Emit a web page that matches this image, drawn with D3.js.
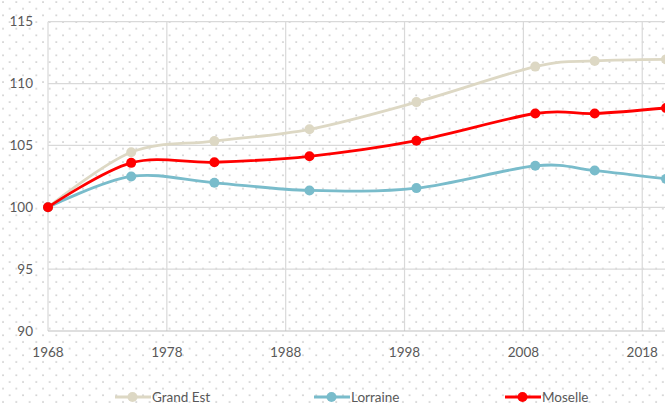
<!DOCTYPE html>
<html><head><meta charset="utf-8">
<script src="https://cdn.jsdelivr.net/npm/d3@7"></script>
<style>
html,body{margin:0;padding:0;background:#fff;}
svg{display:block;font-family:Lato,"Open Sans",sans-serif;}
</style></head>
<body><svg id="c" width="665" height="405"></svg>
<script>
const years = [1968, 1975, 1982, 1990, 1999, 2009, 2014, 2020];
const grandEst = [100, 104.45, 105.35, 106.3, 108.5, 111.37, 111.83, 111.96];
const lorraine = [100, 102.49, 101.98, 101.36, 101.55, 103.35, 102.97, 102.3];
const moselle  = [100, 103.59, 103.64, 104.12, 105.38, 107.58, 107.58, 108.03];
const seriesNames = ["Grand Est", "Lorraine", "Moselle"];
const seriesColors = ["#ddd8c4", "#79bccb", "#ff0000"];
const xTicks = [1968, 1978, 1988, 1998, 2008, 2018];
const yTicks = [90, 95, 100, 105, 110, 115];

const series = [grandEst, lorraine, moselle];
const svg = d3.select("#c");

// dotted background pattern
const defs = svg.append("defs");
const pat = defs.append("pattern").attr("id","dots").attr("patternUnits","userSpaceOnUse")
  .attr("width",13.33).attr("height",13.33).attr("x",2).attr("y",1);
pat.append("circle").attr("cx",1).attr("cy",1).attr("r",0.85).attr("fill","#bdbdbd");
pat.append("circle").attr("cx",7.67).attr("cy",7.67).attr("r",0.85).attr("fill","#bdbdbd");
svg.append("rect").attr("width",665).attr("height",405).attr("fill","url(#dots)");

const x = d3.scaleLinear().domain([1968, 2020]).range([48, 666]);
const y = d3.scaleLinear().domain([90, 115]).range([331, 21.7]);

// gridlines
svg.append("g").selectAll("line").data(yTicks.filter(d=>d>90)).join("line")
  .attr("x1",48).attr("x2",665).attr("y1",d=>y(d)).attr("y2",d=>y(d))
  .attr("stroke","#d9d9d9").attr("stroke-width",1.2);
svg.append("g").selectAll("line").data(xTicks).join("line")
  .attr("x1",d=>x(d)).attr("x2",d=>x(d)).attr("y1",y(115)).attr("y2",y(90))
  .attr("stroke","#d9d9d9").attr("stroke-width",1.2);
// bottom axis line
svg.append("line").attr("x1",48).attr("x2",665).attr("y1",y(90)).attr("y2",y(90))
  .attr("stroke","#bfbfbf").attr("stroke-width",1.2);

// y labels
svg.append("g").selectAll("text").data(yTicks).join("text")
  .attr("x",33).attr("y",d=>y(d)).attr("dy","0.35em").attr("text-anchor","end")
  .attr("font-size","13.5px").attr("fill","#595959").text(d=>d);
// x labels
svg.append("g").selectAll("text").data(xTicks).join("text")
  .attr("x",d=>x(d)).attr("y",352).attr("dy","0.35em").attr("text-anchor","middle")
  .attr("font-size","13.5px").attr("fill","#595959").text(d=>d);

const line = d3.line().x((d,i)=>x(years[i])).y(d=>y(d)).curve(d3.curveCardinal.tension(0));
series.forEach((s,k)=>{
  const g = svg.append("g");
  g.append("path").datum(s).attr("d",line).attr("fill","none")
    .attr("stroke",seriesColors[k]).attr("stroke-width",2.8);
  g.selectAll("circle").data(s).join("circle")
    .attr("cx",(d,i)=>x(years[i])).attr("cy",d=>y(d)).attr("r",5)
    .attr("fill",seriesColors[k]);
});

// legend
const legX = [115, 314, 505];
seriesNames.forEach((n,k)=>{
  const g = svg.append("g").attr("transform",`translate(${legX[k]},397)`);
  g.append("line").attr("x1",0).attr("x2",36).attr("y1",0).attr("y2",0)
    .attr("stroke",seriesColors[k]).attr("stroke-width",2.8);
  g.append("circle").attr("cx",17.5).attr("cy",0).attr("r",5).attr("fill",seriesColors[k]);
  g.append("text").attr("x",37).attr("y",0).attr("dy","0.35em")
    .attr("font-size","13.5px").attr("fill","#595959").text(n);
});
</script></body></html>
